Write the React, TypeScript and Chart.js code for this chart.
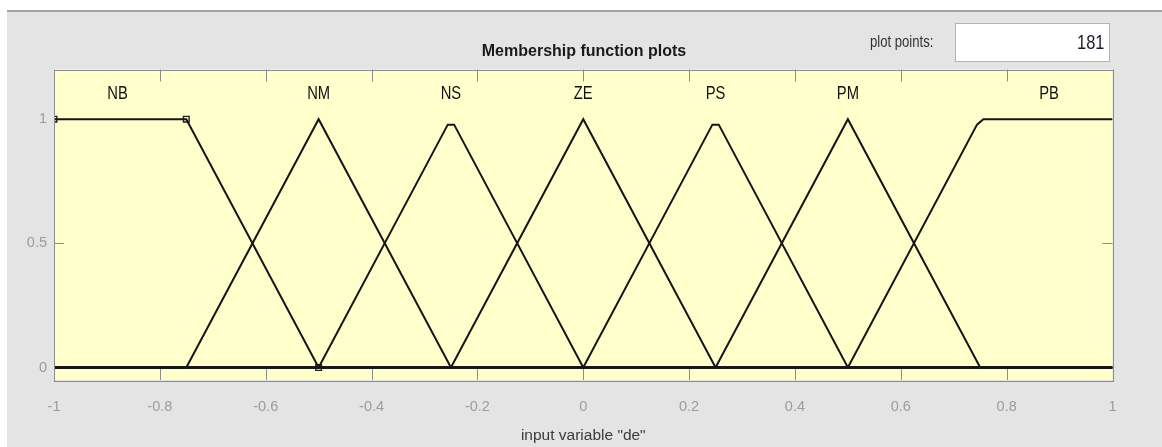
import React, { useEffect, useRef } from "react";
import { Chart, registerables } from "chart.js";
Chart.register(...registerables);

const FONT = '"Liberation Sans", Arial, sans-serif';

const xTicks = [-1, -0.8, -0.6, -0.4, -0.2, 0, 0.2, 0.4, 0.6, 0.8, 1];
const xTickLabels = ["-1", "-0.8", "-0.6", "-0.4", "-0.2", "0", "0.2", "0.4", "0.6", "0.8", "1"];
const yTicks = [0, 0.5, 1];
const yTickLabels = ["0", "0.5", "1"];

const mfNames = ["NB", "NM", "NS", "ZE", "PS", "PM", "PB"];
const mfLabelX = [-0.88, -0.5, -0.25, 0, 0.25, 0.5, 0.88];
const mfLabelY = 1.1;

const nbX = [-1, -0.75, -0.5, 1];
const nbY = [1, 1, 0, 0];
const nmX = [-1, -0.75, -0.5, -0.25, 1];
const nmY = [0, 0, 1, 0, 0];
const nsX = [-1, -0.5, -0.256, -0.244, 0, 1];
const nsY = [0, 0, 0.978, 0.978, 0, 0];
const zeX = [-1, -0.25, 0, 0.25, 1];
const zeY = [0, 0, 1, 0, 0];
const psX = [-1, 0, 0.244, 0.256, 0.5, 1];
const psY = [0, 0, 0.978, 0.978, 0, 0];
const pmX = [-1, 0.25, 0.5, 0.75, 1];
const pmY = [0, 0, 1, 0, 0];
const pbX = [-1, 0.5, 0.744, 0.756, 1];
const pbY = [0, 0, 0.978, 1, 1];
const markerX = [-1, -0.75, -0.5];
const markerY = [1, 1, 0];

const mfX = [nbX, nmX, nsX, zeX, psX, pmX, pbX];
const mfY = [nbY, nmY, nsY, zeY, psY, pmY, pbY];

const NARROW = 0.82;

const framePlugin = {
  id: "frame",
  beforeDatasetsDraw(chart: any) {
    const { ctx, chartArea: a, scales } = chart;
    const xs = scales.x;
    const ys = scales.y;
    ctx.save();
    ctx.fillStyle = "#ffffcc";
    ctx.fillRect(a.left, a.top, a.right - a.left, a.bottom - a.top);
    ctx.strokeStyle = "#8c8c8c";
    ctx.lineWidth = 1;
    ctx.beginPath();
    xTicks.forEach((v) => {
      const px = Math.round(xs.getPixelForValue(v)) + 0.5;
      ctx.moveTo(px, a.top);
      ctx.lineTo(px, a.top + 12);
      ctx.moveTo(px, a.bottom);
      ctx.lineTo(px, a.bottom - 12);
    });
    yTicks.forEach((v) => {
      const py = Math.round(ys.getPixelForValue(v)) + 0.5;
      ctx.moveTo(a.left, py);
      ctx.lineTo(a.left + 10, py);
      ctx.moveTo(a.right, py);
      ctx.lineTo(a.right - 10, py);
    });
    ctx.stroke();
    ctx.restore();
  },
  afterDatasetsDraw(chart: any) {
    const { ctx, chartArea: a, scales } = chart;
    const xs = scales.x;
    const ys = scales.y;
    ctx.save();
    ctx.strokeStyle = "#8c8c8c";
    ctx.lineWidth = 1;
    ctx.strokeRect(Math.round(a.left) + 0.5, Math.round(a.top) + 0.5, Math.round(a.right - a.left), Math.round(a.bottom - a.top));
    ctx.fillStyle = "#111111";
    ctx.font = `18px ${FONT}`;
    ctx.textAlign = "center";
    ctx.textBaseline = "middle";
    mfNames.forEach((n, i) => {
      const px = xs.getPixelForValue(mfLabelX[i]);
      const py = ys.getPixelForValue(mfLabelY);
      ctx.save();
      ctx.translate(px, py);
      ctx.scale(NARROW, 1);
      ctx.fillText(n, 0, 0);
      ctx.restore();
    });
    ctx.restore();
  },
};

export default function App() {
  const ref = useRef<HTMLCanvasElement>(null);
  useEffect(() => {
    const datasets: any[] = mfNames.map((name, i) => ({
      label: name,
      data: mfX[i].map((x, j) => ({ x, y: mfY[i][j] })),
      showLine: true,
      borderColor: "#151515",
      borderWidth: 2,
      pointRadius: 0,
      fill: false,
      yAxisID: "y",
    }));
    datasets.push({
      label: "markers",
      data: markerX.map((x, j) => ({ x, y: markerY[j] })),
      showLine: false,
      pointStyle: "rect",
      pointRadius: 4,
      borderColor: "#222222",
      backgroundColor: "rgba(0,0,0,0)",
      borderWidth: 1.4,
      clip: 0,
      yAxisID: "y",
    });
    const chart = new Chart(ref.current!, {
      type: "scatter",
      data: { datasets },
      options: {
        animation: false,
        responsive: false,
        devicePixelRatio: 1,
        layout: { padding: { left: 6, right: 0, top: 0, bottom: 0 } },
        plugins: {
          legend: { display: false },
          tooltip: { enabled: false },
          title: {
            display: true,
            text: "Membership function plots",
            color: "#1a1a1a",
            font: { family: FONT, size: 16, weight: "bold" },
            padding: { top: 42, bottom: 8.3 },
          },
        },
        scales: {
          x: {
            type: "linear",
            min: -1,
            max: 1,
            grid: { display: false, drawTicks: false },
            border: { display: false },
            afterBuildTicks: (s: any) => {
              s.ticks = xTicks.map((v) => ({ value: v }));
            },
            afterFit: (s: any) => {
              s.height = 67;
            },
            ticks: {
              color: "#9c9c9c",
              font: { family: FONT, size: 14.5 },
              padding: 18,
              maxRotation: 0,
              autoSkip: false,
              callback: (v: any) => xTickLabels[xTicks.findIndex((t) => Math.abs(t - v) < 1e-9)] ?? "",
            },
            title: {
              display: true,
              text: 'input variable "de"',
              color: "#3a3a3a",
              font: { family: FONT, size: 15.5 },
              padding: { top: 0, bottom: 2 },
            },
          },
          y: {
            type: "linear",
            position: "left",
            min: -0.05,
            max: 1.2,
            grid: { display: false, drawTicks: false },
            border: { display: false },
            afterBuildTicks: (s: any) => {
              s.ticks = yTicks.map((v) => ({ value: v }));
            },
            afterFit: (s: any) => {
              s.width = 48;
            },
            ticks: {
              color: "#9c9c9c",
              font: { family: FONT, size: 14.5 },
              padding: 7,
              autoSkip: false,
              callback: (v: any) => yTickLabels[yTicks.findIndex((t) => Math.abs(t - v) < 1e-9)] ?? "",
            },
          },
          yRight: {
            type: "linear",
            position: "right",
            min: -0.05,
            max: 1.2,
            grid: { display: false, drawTicks: false },
            border: { display: false },
            ticks: { display: false },
            afterFit: (s: any) => {
              s.width = 49.5;
            },
          },
        },
      },
      plugins: [framePlugin],
    } as any);
    return () => chart.destroy();
  }, []);

  return (
    <div>
      <div
        style={{
          position: "absolute",
          left: 7,
          top: 10,
          width: 1155,
          height: 437,
          background: "#e4e4e4",
          borderTop: "2px solid #a3a3a3",
          boxSizing: "border-box",
        }}
      />
      <canvas
        ref={ref}
        width={1162}
        height={447}
        style={{ position: "absolute", left: 0, top: 0, width: 1162, height: 447 }}
      />
      <div
        style={{
          position: "absolute",
          right: 1162 - 933,
          top: 31,
          fontFamily: FONT,
          fontSize: 16,
          lineHeight: "22px",
          color: "#333333",
          whiteSpace: "nowrap",
          transform: `scaleX(${NARROW})`,
          transformOrigin: "right center",
        }}
      >
        plot points:
      </div>
      <div
        style={{
          position: "absolute",
          left: 955,
          top: 23,
          width: 155,
          height: 39,
          boxSizing: "border-box",
          background: "#ffffff",
          border: "1px solid #b4b4b4",
        }}
      >
        <div
          style={{
            position: "absolute",
            right: 5,
            top: 0,
            fontFamily: FONT,
            fontSize: 20,
            lineHeight: "37px",
            color: "#1c1c2c",
            transform: `scaleX(${NARROW})`,
            transformOrigin: "right center",
          }}
        >
          181
        </div>
      </div>
    </div>
  );
}
